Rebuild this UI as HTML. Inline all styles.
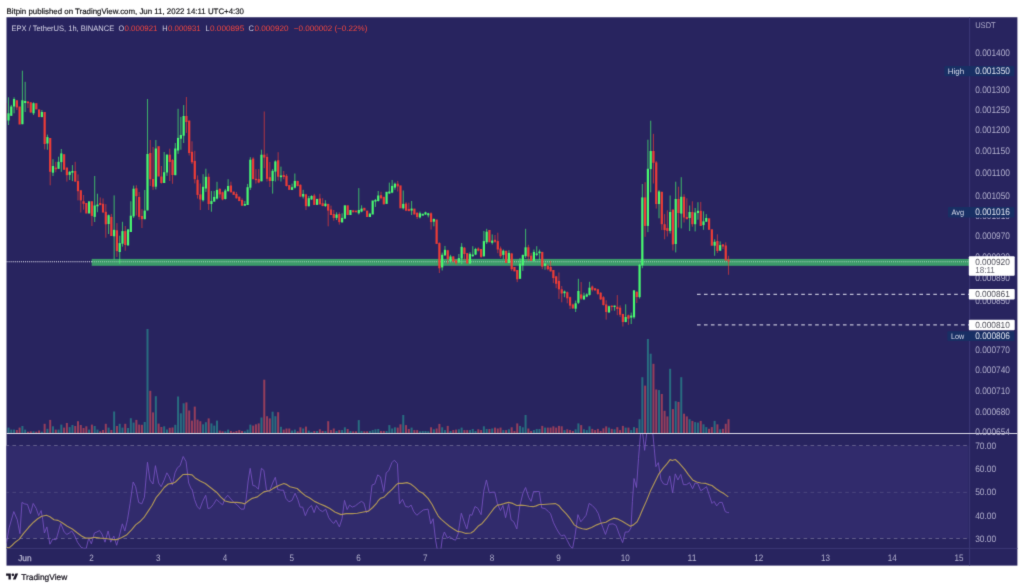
<!DOCTYPE html>
<html><head><meta charset="utf-8"><title>EPX / TetherUS chart</title>
<style>html,body{margin:0;padding:0;background:#fff;width:1024px;height:588px;overflow:hidden}</style></head>
<body>
<svg width="1024" height="588" viewBox="0 0 1024 588" font-family="Liberation Sans, sans-serif" style="display:block;will-change:transform" text-rendering="geometricPrecision">
<filter id="soft" x="0" y="0" width="1024" height="588" filterUnits="userSpaceOnUse" color-interpolation-filters="sRGB"><feConvolveMatrix order="3" kernelMatrix="0.0121 0.0858 0.0121 0.0858 0.6084 0.0858 0.0121 0.0858 0.0121" divisor="1" edgeMode="duplicate" preserveAlpha="true"/></filter>
<g filter="url(#soft)">
<rect width="1024" height="588" fill="#ffffff"/>
<text x="6.5" y="14.1" font-size="7.95" fill="#0c0c10" stroke="#0c0c10" stroke-width="0.16" textLength="237.5" lengthAdjust="spacingAndGlyphs">Bitpin published on TradingView.com, Jun 11, 2022 14:11 UTC+4:30</text>
<rect x="6.5" y="17.25" width="1010.9" height="548.35" fill="#28245f"/>
<defs><clipPath id="main"><rect x="6.5" y="17.25" width="963.1" height="416.25"/></clipPath><clipPath id="rsi"><rect x="6.5" y="434.0" width="963.1" height="114.4"/></clipPath></defs>
<rect x="6.5" y="445.5" width="962.1" height="93" fill="#312b6c"/>
<line x1="6.5" y1="445.5" x2="969.6" y2="445.5" stroke="#b4b2c8" stroke-opacity="0.44" stroke-width="0.9" stroke-dasharray="3.6 3.34" stroke-dashoffset="1"/>
<line x1="6.5" y1="492.4" x2="969.6" y2="492.4" stroke="#b4b2c8" stroke-opacity="0.22" stroke-width="0.9" stroke-dasharray="3.6 3.34" stroke-dashoffset="1"/>
<line x1="6.5" y1="538.5" x2="969.6" y2="538.5" stroke="#b4b2c8" stroke-opacity="0.44" stroke-width="0.9" stroke-dasharray="3.6 3.34" stroke-dashoffset="1"/>
<line x1="969.6" y1="17.25" x2="969.6" y2="565.6" stroke="#3c3875" stroke-width="1"/>
<line x1="6.5" y1="548.4" x2="1017.4" y2="548.4" stroke="#3c3875" stroke-width="1"/>
<line x1="6.5" y1="261.7" x2="969.6" y2="261.7" stroke="#e8e7f4" stroke-opacity="1" stroke-width="1.05" stroke-dasharray="1.03 1.03"/>
<rect x="91.7" y="258.9" width="877.9" height="6.9" fill="#3c9b6a"/>
<line x1="91.7" y1="261.7" x2="969.6" y2="261.7" stroke="#e4f4ea" stroke-opacity="0.62" stroke-width="1.05" stroke-dasharray="1.03 1.03"/>
<line x1="697" y1="294.4" x2="969.6" y2="294.4" stroke="#bdbcd4" stroke-width="1.15" stroke-dasharray="3.6 3.35"/>
<line x1="697" y1="324.9" x2="969.6" y2="324.9" stroke="#bdbcd4" stroke-width="1.15" stroke-dasharray="3.6 3.35"/>
<g clip-path="url(#main)">
<rect x="7.5" y="427.6" width="2.0" height="5.4" fill="#286c80"/>
<rect x="10.28" y="429.6" width="2.0" height="3.4" fill="#286c80"/>
<rect x="13.06" y="429.6" width="2.0" height="3.4" fill="#286c80"/>
<rect x="15.84" y="430" width="2.0" height="3" fill="#953e5c"/>
<rect x="18.62" y="427.6" width="2.0" height="5.4" fill="#953e5c"/>
<rect x="21.4" y="426" width="2.0" height="7" fill="#286c80"/>
<rect x="24.18" y="429.6" width="2.0" height="3.4" fill="#286c80"/>
<rect x="26.96" y="431.7" width="2.0" height="1.3" fill="#953e5c"/>
<rect x="29.74" y="431.3" width="2.0" height="1.7" fill="#953e5c"/>
<rect x="32.52" y="431.3" width="2.0" height="1.7" fill="#286c80"/>
<rect x="35.3" y="431.7" width="2.0" height="1.3" fill="#953e5c"/>
<rect x="38.08" y="430.5" width="2.0" height="2.5" fill="#953e5c"/>
<rect x="40.86" y="431.7" width="2.0" height="1.3" fill="#286c80"/>
<rect x="43.64" y="423.8" width="2.0" height="9.2" fill="#953e5c"/>
<rect x="46.42" y="428.8" width="2.0" height="4.2" fill="#286c80"/>
<rect x="49.2" y="419.9" width="2.0" height="13.1" fill="#953e5c"/>
<rect x="51.98" y="426.3" width="2.0" height="6.7" fill="#286c80"/>
<rect x="54.76" y="429.6" width="2.0" height="3.4" fill="#953e5c"/>
<rect x="57.54" y="429.6" width="2.0" height="3.4" fill="#286c80"/>
<rect x="60.32" y="424.6" width="2.0" height="8.4" fill="#286c80"/>
<rect x="63.1" y="427.6" width="2.0" height="5.4" fill="#953e5c"/>
<rect x="65.88" y="423" width="2.0" height="10" fill="#953e5c"/>
<rect x="68.66" y="427.1" width="2.0" height="5.9" fill="#286c80"/>
<rect x="71.44" y="425" width="2.0" height="8" fill="#286c80"/>
<rect x="74.22" y="426" width="2.0" height="7" fill="#953e5c"/>
<rect x="77" y="421.2" width="2.0" height="11.8" fill="#953e5c"/>
<rect x="79.78" y="425" width="2.0" height="8" fill="#953e5c"/>
<rect x="82.56" y="428" width="2.0" height="5" fill="#953e5c"/>
<rect x="85.34" y="426.3" width="2.0" height="6.7" fill="#953e5c"/>
<rect x="88.12" y="429.6" width="2.0" height="3.4" fill="#286c80"/>
<rect x="90.9" y="424.6" width="2.0" height="8.4" fill="#953e5c"/>
<rect x="93.68" y="426" width="2.0" height="7" fill="#286c80"/>
<rect x="96.46" y="429.6" width="2.0" height="3.4" fill="#286c80"/>
<rect x="99.24" y="431.3" width="2.0" height="1.7" fill="#953e5c"/>
<rect x="102.02" y="430" width="2.0" height="3" fill="#953e5c"/>
<rect x="104.8" y="423.8" width="2.0" height="9.2" fill="#953e5c"/>
<rect x="107.58" y="427.6" width="2.0" height="5.4" fill="#286c80"/>
<rect x="110.36" y="430" width="2.0" height="3" fill="#953e5c"/>
<rect x="113.14" y="411.5" width="2.0" height="21.5" fill="#286c80"/>
<rect x="115.92" y="426" width="2.0" height="7" fill="#953e5c"/>
<rect x="118.7" y="423.8" width="2.0" height="9.2" fill="#286c80"/>
<rect x="121.48" y="427.6" width="2.0" height="5.4" fill="#286c80"/>
<rect x="124.26" y="423.8" width="2.0" height="9.2" fill="#953e5c"/>
<rect x="127.04" y="428" width="2.0" height="5" fill="#286c80"/>
<rect x="129.82" y="418.2" width="2.0" height="14.8" fill="#286c80"/>
<rect x="132.6" y="422.6" width="2.0" height="10.4" fill="#286c80"/>
<rect x="135.38" y="419.9" width="2.0" height="13.1" fill="#953e5c"/>
<rect x="138.16" y="424.6" width="2.0" height="8.4" fill="#953e5c"/>
<rect x="140.94" y="424.8" width="2.0" height="8.2" fill="#953e5c"/>
<rect x="143.72" y="422" width="2.0" height="11" fill="#286c80"/>
<rect x="146.5" y="329" width="2.0" height="104" fill="#286c80"/>
<rect x="149.28" y="390.8" width="2.0" height="42.2" fill="#953e5c"/>
<rect x="152.06" y="412.4" width="2.0" height="20.6" fill="#953e5c"/>
<rect x="154.84" y="396.2" width="2.0" height="36.8" fill="#286c80"/>
<rect x="157.62" y="423.6" width="2.0" height="9.4" fill="#953e5c"/>
<rect x="160.4" y="427" width="2.0" height="6" fill="#953e5c"/>
<rect x="163.18" y="426.3" width="2.0" height="6.7" fill="#286c80"/>
<rect x="165.96" y="429.5" width="2.0" height="3.5" fill="#286c80"/>
<rect x="168.74" y="427.8" width="2.0" height="5.2" fill="#953e5c"/>
<rect x="171.52" y="427.5" width="2.0" height="5.5" fill="#953e5c"/>
<rect x="174.3" y="424.8" width="2.0" height="8.2" fill="#286c80"/>
<rect x="177.08" y="396.5" width="2.0" height="36.5" fill="#286c80"/>
<rect x="179.86" y="413.3" width="2.0" height="19.7" fill="#286c80"/>
<rect x="182.64" y="403.3" width="2.0" height="29.7" fill="#286c80"/>
<rect x="185.42" y="402.4" width="2.0" height="30.6" fill="#953e5c"/>
<rect x="188.2" y="410.5" width="2.0" height="22.5" fill="#953e5c"/>
<rect x="190.98" y="420.6" width="2.0" height="12.4" fill="#953e5c"/>
<rect x="193.76" y="406.6" width="2.0" height="26.4" fill="#953e5c"/>
<rect x="196.54" y="419.6" width="2.0" height="13.4" fill="#953e5c"/>
<rect x="199.32" y="421.2" width="2.0" height="11.8" fill="#953e5c"/>
<rect x="202.1" y="424.3" width="2.0" height="8.7" fill="#286c80"/>
<rect x="204.88" y="422.2" width="2.0" height="10.8" fill="#286c80"/>
<rect x="207.66" y="418.4" width="2.0" height="14.6" fill="#953e5c"/>
<rect x="210.44" y="423.4" width="2.0" height="9.6" fill="#286c80"/>
<rect x="213.22" y="425.6" width="2.0" height="7.4" fill="#286c80"/>
<rect x="216" y="420.6" width="2.0" height="12.4" fill="#286c80"/>
<rect x="218.78" y="430.6" width="2.0" height="2.4" fill="#953e5c"/>
<rect x="221.56" y="431.3" width="2.0" height="1.7" fill="#953e5c"/>
<rect x="224.34" y="431.3" width="2.0" height="1.7" fill="#286c80"/>
<rect x="227.12" y="429.6" width="2.0" height="3.4" fill="#286c80"/>
<rect x="229.9" y="431" width="2.0" height="2" fill="#953e5c"/>
<rect x="232.68" y="431.8" width="2.0" height="1.2" fill="#953e5c"/>
<rect x="235.46" y="431" width="2.0" height="2" fill="#953e5c"/>
<rect x="238.24" y="430.1" width="2.0" height="2.9" fill="#953e5c"/>
<rect x="241.02" y="431" width="2.0" height="2" fill="#953e5c"/>
<rect x="243.8" y="431.3" width="2.0" height="1.7" fill="#286c80"/>
<rect x="246.58" y="429.6" width="2.0" height="3.4" fill="#286c80"/>
<rect x="249.36" y="424.6" width="2.0" height="8.4" fill="#286c80"/>
<rect x="252.14" y="425.6" width="2.0" height="7.4" fill="#953e5c"/>
<rect x="254.92" y="424.3" width="2.0" height="8.7" fill="#953e5c"/>
<rect x="257.7" y="423.4" width="2.0" height="9.6" fill="#953e5c"/>
<rect x="260.48" y="417.5" width="2.0" height="15.5" fill="#286c80"/>
<rect x="263.26" y="379.7" width="2.0" height="53.3" fill="#953e5c"/>
<rect x="266.04" y="416.2" width="2.0" height="16.8" fill="#953e5c"/>
<rect x="268.82" y="418.4" width="2.0" height="14.6" fill="#953e5c"/>
<rect x="271.6" y="411.7" width="2.0" height="21.3" fill="#286c80"/>
<rect x="274.38" y="416.2" width="2.0" height="16.8" fill="#286c80"/>
<rect x="277.16" y="412.2" width="2.0" height="20.8" fill="#953e5c"/>
<rect x="279.94" y="426.8" width="2.0" height="6.2" fill="#286c80"/>
<rect x="282.72" y="429.6" width="2.0" height="3.4" fill="#953e5c"/>
<rect x="285.5" y="428.5" width="2.0" height="4.5" fill="#953e5c"/>
<rect x="288.28" y="428.5" width="2.0" height="4.5" fill="#953e5c"/>
<rect x="291.06" y="430.6" width="2.0" height="2.4" fill="#286c80"/>
<rect x="293.84" y="429.6" width="2.0" height="3.4" fill="#286c80"/>
<rect x="296.62" y="431.3" width="2.0" height="1.7" fill="#953e5c"/>
<rect x="299.4" y="427.3" width="2.0" height="5.7" fill="#953e5c"/>
<rect x="302.18" y="428.5" width="2.0" height="4.5" fill="#286c80"/>
<rect x="304.96" y="426.6" width="2.0" height="6.4" fill="#953e5c"/>
<rect x="307.74" y="430.6" width="2.0" height="2.4" fill="#286c80"/>
<rect x="310.52" y="431.8" width="2.0" height="1.2" fill="#286c80"/>
<rect x="313.3" y="431" width="2.0" height="2" fill="#953e5c"/>
<rect x="316.08" y="431" width="2.0" height="2" fill="#286c80"/>
<rect x="318.86" y="429.3" width="2.0" height="3.7" fill="#953e5c"/>
<rect x="321.64" y="431" width="2.0" height="2" fill="#953e5c"/>
<rect x="324.42" y="431" width="2.0" height="2" fill="#286c80"/>
<rect x="327.2" y="421.2" width="2.0" height="11.8" fill="#953e5c"/>
<rect x="329.98" y="430.1" width="2.0" height="2.9" fill="#953e5c"/>
<rect x="332.76" y="428.5" width="2.0" height="4.5" fill="#953e5c"/>
<rect x="335.54" y="431" width="2.0" height="2" fill="#286c80"/>
<rect x="338.32" y="430.1" width="2.0" height="2.9" fill="#953e5c"/>
<rect x="341.1" y="430.1" width="2.0" height="2.9" fill="#286c80"/>
<rect x="343.88" y="427.3" width="2.0" height="5.7" fill="#286c80"/>
<rect x="346.66" y="429" width="2.0" height="4" fill="#953e5c"/>
<rect x="349.44" y="431" width="2.0" height="2" fill="#286c80"/>
<rect x="352.22" y="431.3" width="2.0" height="1.7" fill="#953e5c"/>
<rect x="355" y="431.3" width="2.0" height="1.7" fill="#953e5c"/>
<rect x="357.78" y="420.1" width="2.0" height="12.9" fill="#286c80"/>
<rect x="360.56" y="431" width="2.0" height="2" fill="#286c80"/>
<rect x="363.34" y="431.3" width="2.0" height="1.7" fill="#953e5c"/>
<rect x="366.12" y="431.3" width="2.0" height="1.7" fill="#953e5c"/>
<rect x="368.9" y="431" width="2.0" height="2" fill="#286c80"/>
<rect x="371.68" y="430.1" width="2.0" height="2.9" fill="#286c80"/>
<rect x="374.46" y="429.3" width="2.0" height="3.7" fill="#286c80"/>
<rect x="377.24" y="429" width="2.0" height="4" fill="#286c80"/>
<rect x="380.02" y="431" width="2.0" height="2" fill="#953e5c"/>
<rect x="382.8" y="431" width="2.0" height="2" fill="#953e5c"/>
<rect x="385.58" y="431" width="2.0" height="2" fill="#286c80"/>
<rect x="388.36" y="425.1" width="2.0" height="7.9" fill="#286c80"/>
<rect x="391.14" y="428.5" width="2.0" height="4.5" fill="#286c80"/>
<rect x="393.92" y="427.3" width="2.0" height="5.7" fill="#286c80"/>
<rect x="396.7" y="427.6" width="2.0" height="5.4" fill="#953e5c"/>
<rect x="399.48" y="424.3" width="2.0" height="8.7" fill="#953e5c"/>
<rect x="402.26" y="415" width="2.0" height="18" fill="#286c80"/>
<rect x="405.04" y="425.1" width="2.0" height="7.9" fill="#953e5c"/>
<rect x="407.82" y="429" width="2.0" height="4" fill="#953e5c"/>
<rect x="410.6" y="427.6" width="2.0" height="5.4" fill="#286c80"/>
<rect x="413.38" y="430.1" width="2.0" height="2.9" fill="#953e5c"/>
<rect x="416.16" y="430.1" width="2.0" height="2.9" fill="#953e5c"/>
<rect x="418.94" y="431.3" width="2.0" height="1.7" fill="#286c80"/>
<rect x="421.72" y="431" width="2.0" height="2" fill="#286c80"/>
<rect x="424.5" y="431" width="2.0" height="2" fill="#286c80"/>
<rect x="427.28" y="431.3" width="2.0" height="1.7" fill="#286c80"/>
<rect x="430.06" y="427.3" width="2.0" height="5.7" fill="#953e5c"/>
<rect x="432.84" y="429.3" width="2.0" height="3.7" fill="#286c80"/>
<rect x="435.62" y="428.5" width="2.0" height="4.5" fill="#953e5c"/>
<rect x="438.4" y="423.9" width="2.0" height="9.1" fill="#953e5c"/>
<rect x="441.18" y="427.3" width="2.0" height="5.7" fill="#286c80"/>
<rect x="443.96" y="430.1" width="2.0" height="2.9" fill="#286c80"/>
<rect x="446.74" y="425.9" width="2.0" height="7.1" fill="#953e5c"/>
<rect x="449.52" y="431" width="2.0" height="2" fill="#286c80"/>
<rect x="452.3" y="430.1" width="2.0" height="2.9" fill="#953e5c"/>
<rect x="455.08" y="429.6" width="2.0" height="3.4" fill="#953e5c"/>
<rect x="457.86" y="429.3" width="2.0" height="3.7" fill="#286c80"/>
<rect x="460.64" y="427.6" width="2.0" height="5.4" fill="#286c80"/>
<rect x="463.42" y="430.1" width="2.0" height="2.9" fill="#953e5c"/>
<rect x="466.2" y="430.1" width="2.0" height="2.9" fill="#953e5c"/>
<rect x="468.98" y="430.1" width="2.0" height="2.9" fill="#286c80"/>
<rect x="471.76" y="429" width="2.0" height="4" fill="#286c80"/>
<rect x="474.54" y="431" width="2.0" height="2" fill="#286c80"/>
<rect x="477.32" y="429.3" width="2.0" height="3.7" fill="#953e5c"/>
<rect x="480.1" y="430.1" width="2.0" height="2.9" fill="#953e5c"/>
<rect x="482.88" y="426.3" width="2.0" height="6.7" fill="#286c80"/>
<rect x="485.66" y="429" width="2.0" height="4" fill="#286c80"/>
<rect x="488.44" y="429" width="2.0" height="4" fill="#953e5c"/>
<rect x="491.22" y="428.5" width="2.0" height="4.5" fill="#286c80"/>
<rect x="494" y="427.6" width="2.0" height="5.4" fill="#953e5c"/>
<rect x="496.78" y="428.5" width="2.0" height="4.5" fill="#953e5c"/>
<rect x="499.56" y="427.6" width="2.0" height="5.4" fill="#953e5c"/>
<rect x="502.34" y="430.1" width="2.0" height="2.9" fill="#286c80"/>
<rect x="505.12" y="430.1" width="2.0" height="2.9" fill="#953e5c"/>
<rect x="507.9" y="429.3" width="2.0" height="3.7" fill="#286c80"/>
<rect x="510.68" y="427.3" width="2.0" height="5.7" fill="#953e5c"/>
<rect x="513.46" y="431" width="2.0" height="2" fill="#953e5c"/>
<rect x="516.24" y="423.4" width="2.0" height="9.6" fill="#953e5c"/>
<rect x="519.02" y="425.9" width="2.0" height="7.1" fill="#286c80"/>
<rect x="521.8" y="427.3" width="2.0" height="5.7" fill="#286c80"/>
<rect x="524.58" y="415" width="2.0" height="18" fill="#286c80"/>
<rect x="527.36" y="428.5" width="2.0" height="4.5" fill="#953e5c"/>
<rect x="530.14" y="431" width="2.0" height="2" fill="#953e5c"/>
<rect x="532.92" y="430.1" width="2.0" height="2.9" fill="#286c80"/>
<rect x="535.7" y="429" width="2.0" height="4" fill="#286c80"/>
<rect x="538.48" y="429" width="2.0" height="4" fill="#286c80"/>
<rect x="541.26" y="425.9" width="2.0" height="7.1" fill="#953e5c"/>
<rect x="544.04" y="427.6" width="2.0" height="5.4" fill="#286c80"/>
<rect x="546.82" y="427.6" width="2.0" height="5.4" fill="#953e5c"/>
<rect x="549.6" y="427.6" width="2.0" height="5.4" fill="#953e5c"/>
<rect x="552.38" y="426.3" width="2.0" height="6.7" fill="#953e5c"/>
<rect x="555.16" y="427.6" width="2.0" height="5.4" fill="#953e5c"/>
<rect x="557.94" y="425.9" width="2.0" height="7.1" fill="#953e5c"/>
<rect x="560.72" y="426.3" width="2.0" height="6.7" fill="#953e5c"/>
<rect x="563.5" y="430.1" width="2.0" height="2.9" fill="#286c80"/>
<rect x="566.28" y="429.3" width="2.0" height="3.7" fill="#953e5c"/>
<rect x="569.06" y="430.1" width="2.0" height="2.9" fill="#953e5c"/>
<rect x="571.84" y="431" width="2.0" height="2" fill="#953e5c"/>
<rect x="574.62" y="429.3" width="2.0" height="3.7" fill="#286c80"/>
<rect x="577.4" y="423.4" width="2.0" height="9.6" fill="#286c80"/>
<rect x="580.18" y="425.1" width="2.0" height="7.9" fill="#953e5c"/>
<rect x="582.96" y="429.3" width="2.0" height="3.7" fill="#286c80"/>
<rect x="585.74" y="430.1" width="2.0" height="2.9" fill="#286c80"/>
<rect x="588.52" y="426.3" width="2.0" height="6.7" fill="#286c80"/>
<rect x="591.3" y="428.9" width="2.0" height="4.1" fill="#953e5c"/>
<rect x="594.08" y="430.1" width="2.0" height="2.9" fill="#953e5c"/>
<rect x="596.86" y="428.9" width="2.0" height="4.1" fill="#953e5c"/>
<rect x="599.64" y="431" width="2.0" height="2" fill="#953e5c"/>
<rect x="602.42" y="428.3" width="2.0" height="4.7" fill="#953e5c"/>
<rect x="605.2" y="426.4" width="2.0" height="6.6" fill="#953e5c"/>
<rect x="607.98" y="427.6" width="2.0" height="5.4" fill="#286c80"/>
<rect x="610.76" y="428.9" width="2.0" height="4.1" fill="#953e5c"/>
<rect x="613.54" y="429.3" width="2.0" height="3.7" fill="#286c80"/>
<rect x="616.32" y="427.2" width="2.0" height="5.8" fill="#953e5c"/>
<rect x="619.1" y="430.1" width="2.0" height="2.9" fill="#953e5c"/>
<rect x="621.88" y="425.9" width="2.0" height="7.1" fill="#953e5c"/>
<rect x="624.66" y="427.6" width="2.0" height="5.4" fill="#286c80"/>
<rect x="627.44" y="427.6" width="2.0" height="5.4" fill="#953e5c"/>
<rect x="630.22" y="430.1" width="2.0" height="2.9" fill="#286c80"/>
<rect x="633" y="427.1" width="2.0" height="5.9" fill="#286c80"/>
<rect x="635.78" y="428.1" width="2.0" height="4.9" fill="#953e5c"/>
<rect x="638.56" y="419.2" width="2.0" height="13.8" fill="#286c80"/>
<rect x="641.34" y="377.2" width="2.0" height="55.8" fill="#286c80"/>
<rect x="644.12" y="385.6" width="2.0" height="47.4" fill="#953e5c"/>
<rect x="646.9" y="339" width="2.0" height="94" fill="#286c80"/>
<rect x="649.68" y="353.7" width="2.0" height="79.3" fill="#286c80"/>
<rect x="652.46" y="363.8" width="2.0" height="69.2" fill="#953e5c"/>
<rect x="655.24" y="389.5" width="2.0" height="43.5" fill="#953e5c"/>
<rect x="658.02" y="390.1" width="2.0" height="42.9" fill="#286c80"/>
<rect x="660.8" y="394" width="2.0" height="39" fill="#953e5c"/>
<rect x="663.58" y="410.8" width="2.0" height="22.2" fill="#953e5c"/>
<rect x="666.36" y="416.4" width="2.0" height="16.6" fill="#953e5c"/>
<rect x="669.14" y="368.8" width="2.0" height="64.2" fill="#286c80"/>
<rect x="671.92" y="409.1" width="2.0" height="23.9" fill="#953e5c"/>
<rect x="674.7" y="401.2" width="2.0" height="31.8" fill="#286c80"/>
<rect x="677.48" y="401.9" width="2.0" height="31.1" fill="#953e5c"/>
<rect x="680.26" y="377.2" width="2.0" height="55.8" fill="#286c80"/>
<rect x="683.04" y="413.7" width="2.0" height="19.3" fill="#953e5c"/>
<rect x="685.82" y="416.4" width="2.0" height="16.6" fill="#953e5c"/>
<rect x="688.6" y="419.2" width="2.0" height="13.8" fill="#286c80"/>
<rect x="691.38" y="420.9" width="2.0" height="12.1" fill="#953e5c"/>
<rect x="694.16" y="422.1" width="2.0" height="10.9" fill="#286c80"/>
<rect x="696.94" y="422.6" width="2.0" height="10.4" fill="#286c80"/>
<rect x="699.72" y="420.9" width="2.0" height="12.1" fill="#953e5c"/>
<rect x="702.5" y="424.3" width="2.0" height="8.7" fill="#286c80"/>
<rect x="705.28" y="427.1" width="2.0" height="5.9" fill="#286c80"/>
<rect x="708.06" y="428.8" width="2.0" height="4.2" fill="#953e5c"/>
<rect x="710.84" y="427.1" width="2.0" height="5.9" fill="#953e5c"/>
<rect x="713.62" y="420.9" width="2.0" height="12.1" fill="#286c80"/>
<rect x="716.4" y="424.3" width="2.0" height="8.7" fill="#953e5c"/>
<rect x="719.18" y="429.3" width="2.0" height="3.7" fill="#286c80"/>
<rect x="721.96" y="428.8" width="2.0" height="4.2" fill="#953e5c"/>
<rect x="724.74" y="423.8" width="2.0" height="9.2" fill="#953e5c"/>
<rect x="727.52" y="419.2" width="2.0" height="13.8" fill="#953e5c"/>
<rect x="7.95" y="97.3" width="1.1" height="27.7" fill="#48f870" fill-opacity="0.62"/>
<rect x="10.73" y="104.9" width="1.1" height="11.1" fill="#48f870" fill-opacity="0.62"/>
<rect x="13.51" y="97.3" width="1.1" height="16" fill="#48f870" fill-opacity="0.62"/>
<rect x="16.29" y="100.3" width="1.1" height="9.7" fill="#eb3c37" fill-opacity="0.62"/>
<rect x="21.85" y="70.7" width="1.1" height="53.5" fill="#48f870" fill-opacity="0.62"/>
<rect x="24.63" y="81.8" width="1.1" height="30.2" fill="#48f870" fill-opacity="0.62"/>
<rect x="27.41" y="101.5" width="1.1" height="6.5" fill="#eb3c37" fill-opacity="0.62"/>
<rect x="30.19" y="102.3" width="1.1" height="10.7" fill="#eb3c37" fill-opacity="0.62"/>
<rect x="32.97" y="102.3" width="1.1" height="12.7" fill="#48f870" fill-opacity="0.62"/>
<rect x="41.31" y="110" width="1.1" height="7.1" fill="#48f870" fill-opacity="0.62"/>
<rect x="44.09" y="112" width="1.1" height="37.4" fill="#eb3c37" fill-opacity="0.62"/>
<rect x="46.87" y="134.6" width="1.1" height="15.1" fill="#48f870" fill-opacity="0.62"/>
<rect x="49.65" y="138" width="1.1" height="47.3" fill="#eb3c37" fill-opacity="0.62"/>
<rect x="52.43" y="159.2" width="1.1" height="16.8" fill="#48f870" fill-opacity="0.62"/>
<rect x="55.21" y="161.8" width="1.1" height="10.4" fill="#eb3c37" fill-opacity="0.62"/>
<rect x="57.99" y="156.7" width="1.1" height="12.1" fill="#48f870" fill-opacity="0.62"/>
<rect x="60.77" y="149" width="1.1" height="22.8" fill="#48f870" fill-opacity="0.62"/>
<rect x="66.33" y="167.6" width="1.1" height="14" fill="#eb3c37" fill-opacity="0.62"/>
<rect x="69.11" y="171" width="1.1" height="9" fill="#48f870" fill-opacity="0.62"/>
<rect x="71.89" y="165.1" width="1.1" height="16" fill="#48f870" fill-opacity="0.62"/>
<rect x="74.67" y="161.8" width="1.1" height="19.8" fill="#eb3c37" fill-opacity="0.62"/>
<rect x="77.45" y="174.4" width="1.1" height="26" fill="#eb3c37" fill-opacity="0.62"/>
<rect x="80.23" y="190.3" width="1.1" height="22.2" fill="#eb3c37" fill-opacity="0.62"/>
<rect x="83.01" y="195" width="1.1" height="14.7" fill="#eb3c37" fill-opacity="0.62"/>
<rect x="91.35" y="201.3" width="1.1" height="24.7" fill="#eb3c37" fill-opacity="0.62"/>
<rect x="94.13" y="176" width="1.1" height="46" fill="#48f870" fill-opacity="0.62"/>
<rect x="96.91" y="193.7" width="1.1" height="18.5" fill="#48f870" fill-opacity="0.62"/>
<rect x="99.69" y="197.4" width="1.1" height="7.7" fill="#eb3c37" fill-opacity="0.62"/>
<rect x="102.47" y="198.4" width="1.1" height="14.1" fill="#eb3c37" fill-opacity="0.62"/>
<rect x="105.25" y="204.1" width="1.1" height="33.6" fill="#eb3c37" fill-opacity="0.62"/>
<rect x="108.03" y="214.5" width="1.1" height="19.5" fill="#48f870" fill-opacity="0.62"/>
<rect x="110.81" y="213.9" width="1.1" height="22.1" fill="#eb3c37" fill-opacity="0.62"/>
<rect x="113.59" y="195.4" width="1.1" height="64.1" fill="#48f870" fill-opacity="0.62"/>
<rect x="116.37" y="223.1" width="1.1" height="33.9" fill="#eb3c37" fill-opacity="0.62"/>
<rect x="119.15" y="235.7" width="1.1" height="28" fill="#48f870" fill-opacity="0.62"/>
<rect x="121.93" y="221.8" width="1.1" height="24.8" fill="#48f870" fill-opacity="0.62"/>
<rect x="124.71" y="226" width="1.1" height="24.7" fill="#eb3c37" fill-opacity="0.62"/>
<rect x="127.49" y="229" width="1.1" height="17" fill="#48f870" fill-opacity="0.62"/>
<rect x="130.27" y="201.3" width="1.1" height="30.7" fill="#48f870" fill-opacity="0.62"/>
<rect x="133.05" y="185.6" width="1.1" height="32.4" fill="#48f870" fill-opacity="0.62"/>
<rect x="135.83" y="185.3" width="1.1" height="30.2" fill="#eb3c37" fill-opacity="0.62"/>
<rect x="138.61" y="192" width="1.1" height="27.7" fill="#eb3c37" fill-opacity="0.62"/>
<rect x="141.39" y="209.2" width="1.1" height="18.8" fill="#eb3c37" fill-opacity="0.62"/>
<rect x="144.17" y="190" width="1.1" height="29.2" fill="#48f870" fill-opacity="0.62"/>
<rect x="146.95" y="99" width="1.1" height="111.4" fill="#48f870" fill-opacity="0.62"/>
<rect x="149.73" y="140" width="1.1" height="46" fill="#eb3c37" fill-opacity="0.62"/>
<rect x="152.51" y="147" width="1.1" height="42.9" fill="#eb3c37" fill-opacity="0.62"/>
<rect x="155.29" y="140" width="1.1" height="49.4" fill="#48f870" fill-opacity="0.62"/>
<rect x="160.85" y="166" width="1.1" height="17.6" fill="#eb3c37" fill-opacity="0.62"/>
<rect x="163.63" y="152" width="1.1" height="31" fill="#48f870" fill-opacity="0.62"/>
<rect x="166.41" y="154.6" width="1.1" height="21.2" fill="#48f870" fill-opacity="0.62"/>
<rect x="169.19" y="148.7" width="1.1" height="32.3" fill="#eb3c37" fill-opacity="0.62"/>
<rect x="171.97" y="159" width="1.1" height="24.8" fill="#eb3c37" fill-opacity="0.62"/>
<rect x="174.75" y="143" width="1.1" height="32.2" fill="#48f870" fill-opacity="0.62"/>
<rect x="177.53" y="108.8" width="1.1" height="45.1" fill="#48f870" fill-opacity="0.62"/>
<rect x="180.31" y="116.9" width="1.1" height="32.8" fill="#48f870" fill-opacity="0.62"/>
<rect x="183.09" y="105.1" width="1.1" height="37.9" fill="#48f870" fill-opacity="0.62"/>
<rect x="185.87" y="97" width="1.1" height="35.9" fill="#eb3c37" fill-opacity="0.62"/>
<rect x="188.65" y="120.6" width="1.1" height="34.9" fill="#eb3c37" fill-opacity="0.62"/>
<rect x="191.43" y="141.3" width="1.1" height="22.7" fill="#eb3c37" fill-opacity="0.62"/>
<rect x="194.21" y="150.8" width="1.1" height="32.6" fill="#eb3c37" fill-opacity="0.62"/>
<rect x="196.99" y="175.4" width="1.1" height="23.2" fill="#eb3c37" fill-opacity="0.62"/>
<rect x="199.77" y="183.5" width="1.1" height="26.5" fill="#eb3c37" fill-opacity="0.62"/>
<rect x="202.55" y="174.2" width="1.1" height="27.4" fill="#48f870" fill-opacity="0.62"/>
<rect x="205.33" y="168.7" width="1.1" height="23.2" fill="#48f870" fill-opacity="0.62"/>
<rect x="208.11" y="173.5" width="1.1" height="36.5" fill="#eb3c37" fill-opacity="0.62"/>
<rect x="210.89" y="191" width="1.1" height="20.7" fill="#48f870" fill-opacity="0.62"/>
<rect x="213.67" y="191" width="1.1" height="10.6" fill="#48f870" fill-opacity="0.62"/>
<rect x="216.45" y="181.8" width="1.1" height="17.7" fill="#48f870" fill-opacity="0.62"/>
<rect x="219.23" y="188.2" width="1.1" height="9.6" fill="#eb3c37" fill-opacity="0.62"/>
<rect x="222.01" y="191.6" width="1.1" height="8.7" fill="#eb3c37" fill-opacity="0.62"/>
<rect x="224.79" y="188.9" width="1.1" height="10.6" fill="#48f870" fill-opacity="0.62"/>
<rect x="227.57" y="179.2" width="1.1" height="12.7" fill="#48f870" fill-opacity="0.62"/>
<rect x="230.35" y="181.7" width="1.1" height="11" fill="#eb3c37" fill-opacity="0.62"/>
<rect x="235.91" y="191.9" width="1.1" height="6.7" fill="#eb3c37" fill-opacity="0.62"/>
<rect x="241.47" y="198.3" width="1.1" height="7.4" fill="#eb3c37" fill-opacity="0.62"/>
<rect x="244.25" y="201.1" width="1.1" height="4.6" fill="#48f870" fill-opacity="0.62"/>
<rect x="247.03" y="183.9" width="1.1" height="21.1" fill="#48f870" fill-opacity="0.62"/>
<rect x="249.81" y="157.2" width="1.1" height="32.7" fill="#48f870" fill-opacity="0.62"/>
<rect x="252.59" y="157.2" width="1.1" height="22" fill="#eb3c37" fill-opacity="0.62"/>
<rect x="255.37" y="169.1" width="1.1" height="14.5" fill="#eb3c37" fill-opacity="0.62"/>
<rect x="258.15" y="169.1" width="1.1" height="14.1" fill="#eb3c37" fill-opacity="0.62"/>
<rect x="260.93" y="149.7" width="1.1" height="31.6" fill="#48f870" fill-opacity="0.62"/>
<rect x="263.71" y="111.5" width="1.1" height="56.7" fill="#eb3c37" fill-opacity="0.62"/>
<rect x="266.49" y="153.5" width="1.1" height="28" fill="#eb3c37" fill-opacity="0.62"/>
<rect x="269.27" y="162" width="1.1" height="25" fill="#eb3c37" fill-opacity="0.62"/>
<rect x="272.05" y="169.1" width="1.1" height="24.5" fill="#48f870" fill-opacity="0.62"/>
<rect x="274.83" y="160.3" width="1.1" height="21.2" fill="#48f870" fill-opacity="0.62"/>
<rect x="277.61" y="152.2" width="1.1" height="28.4" fill="#eb3c37" fill-opacity="0.62"/>
<rect x="280.39" y="166.6" width="1.1" height="14.9" fill="#48f870" fill-opacity="0.62"/>
<rect x="283.17" y="171" width="1.1" height="8.2" fill="#eb3c37" fill-opacity="0.62"/>
<rect x="285.95" y="174.1" width="1.1" height="12.4" fill="#eb3c37" fill-opacity="0.62"/>
<rect x="291.51" y="183.6" width="1.1" height="6.3" fill="#48f870" fill-opacity="0.62"/>
<rect x="294.29" y="173.5" width="1.1" height="15" fill="#48f870" fill-opacity="0.62"/>
<rect x="297.07" y="180.9" width="1.1" height="5.6" fill="#eb3c37" fill-opacity="0.62"/>
<rect x="299.85" y="184.3" width="1.1" height="12.9" fill="#eb3c37" fill-opacity="0.62"/>
<rect x="302.63" y="189.8" width="1.1" height="8.7" fill="#48f870" fill-opacity="0.62"/>
<rect x="305.41" y="193.8" width="1.1" height="16.2" fill="#eb3c37" fill-opacity="0.62"/>
<rect x="308.19" y="196" width="1.1" height="10.6" fill="#48f870" fill-opacity="0.62"/>
<rect x="310.97" y="195.2" width="1.1" height="4.8" fill="#48f870" fill-opacity="0.62"/>
<rect x="313.75" y="193.8" width="1.1" height="11.1" fill="#eb3c37" fill-opacity="0.62"/>
<rect x="319.31" y="193.8" width="1.1" height="10.6" fill="#eb3c37" fill-opacity="0.62"/>
<rect x="322.09" y="198.2" width="1.1" height="7.9" fill="#eb3c37" fill-opacity="0.62"/>
<rect x="324.87" y="200.2" width="1.1" height="6.7" fill="#48f870" fill-opacity="0.62"/>
<rect x="327.65" y="203.9" width="1.1" height="22.4" fill="#eb3c37" fill-opacity="0.62"/>
<rect x="330.43" y="205.6" width="1.1" height="9.4" fill="#eb3c37" fill-opacity="0.62"/>
<rect x="333.21" y="210" width="1.1" height="10.7" fill="#eb3c37" fill-opacity="0.62"/>
<rect x="335.99" y="212.3" width="1.1" height="7.7" fill="#48f870" fill-opacity="0.62"/>
<rect x="338.77" y="212.3" width="1.1" height="12.3" fill="#eb3c37" fill-opacity="0.62"/>
<rect x="341.55" y="213.3" width="1.1" height="9.1" fill="#48f870" fill-opacity="0.62"/>
<rect x="358.23" y="188.1" width="1.1" height="26.4" fill="#48f870" fill-opacity="0.62"/>
<rect x="361.01" y="205.3" width="1.1" height="7" fill="#48f870" fill-opacity="0.62"/>
<rect x="369.35" y="212.8" width="1.1" height="4.2" fill="#48f870" fill-opacity="0.62"/>
<rect x="374.91" y="198.9" width="1.1" height="8" fill="#48f870" fill-opacity="0.62"/>
<rect x="377.69" y="191" width="1.1" height="10.6" fill="#48f870" fill-opacity="0.62"/>
<rect x="380.47" y="191.8" width="1.1" height="7.6" fill="#eb3c37" fill-opacity="0.62"/>
<rect x="388.81" y="182.6" width="1.1" height="11.2" fill="#48f870" fill-opacity="0.62"/>
<rect x="391.59" y="180" width="1.1" height="13.2" fill="#48f870" fill-opacity="0.62"/>
<rect x="394.37" y="182.6" width="1.1" height="7.2" fill="#48f870" fill-opacity="0.62"/>
<rect x="397.15" y="180.9" width="1.1" height="10.6" fill="#eb3c37" fill-opacity="0.62"/>
<rect x="402.71" y="190.5" width="1.1" height="19" fill="#48f870" fill-opacity="0.62"/>
<rect x="405.49" y="202.2" width="1.1" height="8.9" fill="#eb3c37" fill-opacity="0.62"/>
<rect x="408.27" y="202.7" width="1.1" height="8.4" fill="#eb3c37" fill-opacity="0.62"/>
<rect x="411.05" y="201" width="1.1" height="14" fill="#48f870" fill-opacity="0.62"/>
<rect x="416.61" y="212.3" width="1.1" height="6.7" fill="#eb3c37" fill-opacity="0.62"/>
<rect x="419.39" y="211.6" width="1.1" height="6.8" fill="#48f870" fill-opacity="0.62"/>
<rect x="424.95" y="211.6" width="1.1" height="3.4" fill="#48f870" fill-opacity="0.62"/>
<rect x="427.73" y="212.8" width="1.1" height="4.6" fill="#48f870" fill-opacity="0.62"/>
<rect x="430.51" y="212.3" width="1.1" height="17.3" fill="#eb3c37" fill-opacity="0.62"/>
<rect x="433.29" y="218.4" width="1.1" height="7.9" fill="#48f870" fill-opacity="0.62"/>
<rect x="438.85" y="242.2" width="1.1" height="30.8" fill="#eb3c37" fill-opacity="0.62"/>
<rect x="441.63" y="252.6" width="1.1" height="17.9" fill="#48f870" fill-opacity="0.62"/>
<rect x="444.41" y="245.9" width="1.1" height="10.1" fill="#48f870" fill-opacity="0.62"/>
<rect x="447.19" y="249.8" width="1.1" height="14.2" fill="#eb3c37" fill-opacity="0.62"/>
<rect x="449.97" y="254.8" width="1.1" height="7.2" fill="#48f870" fill-opacity="0.62"/>
<rect x="452.75" y="256" width="1.1" height="6.4" fill="#eb3c37" fill-opacity="0.62"/>
<rect x="455.53" y="259.4" width="1.1" height="5.5" fill="#eb3c37" fill-opacity="0.62"/>
<rect x="458.31" y="254" width="1.1" height="9.2" fill="#48f870" fill-opacity="0.62"/>
<rect x="461.09" y="243.1" width="1.1" height="21" fill="#48f870" fill-opacity="0.62"/>
<rect x="463.87" y="247" width="1.1" height="13" fill="#eb3c37" fill-opacity="0.62"/>
<rect x="466.65" y="253" width="1.1" height="10.8" fill="#eb3c37" fill-opacity="0.62"/>
<rect x="469.43" y="252.2" width="1.1" height="11.9" fill="#48f870" fill-opacity="0.62"/>
<rect x="472.21" y="246.2" width="1.1" height="10.7" fill="#48f870" fill-opacity="0.62"/>
<rect x="474.99" y="247.8" width="1.1" height="7.4" fill="#48f870" fill-opacity="0.62"/>
<rect x="477.77" y="247.3" width="1.1" height="4.2" fill="#eb3c37" fill-opacity="0.62"/>
<rect x="480.55" y="249" width="1.1" height="8.9" fill="#eb3c37" fill-opacity="0.62"/>
<rect x="483.33" y="231" width="1.1" height="25.9" fill="#48f870" fill-opacity="0.62"/>
<rect x="486.11" y="228.8" width="1.1" height="15.2" fill="#48f870" fill-opacity="0.62"/>
<rect x="491.67" y="234.4" width="1.1" height="10.1" fill="#48f870" fill-opacity="0.62"/>
<rect x="494.45" y="235" width="1.1" height="7.8" fill="#eb3c37" fill-opacity="0.62"/>
<rect x="497.23" y="232.7" width="1.1" height="20.5" fill="#eb3c37" fill-opacity="0.62"/>
<rect x="500.01" y="246.5" width="1.1" height="11.4" fill="#eb3c37" fill-opacity="0.62"/>
<rect x="502.79" y="249.5" width="1.1" height="9.6" fill="#48f870" fill-opacity="0.62"/>
<rect x="508.35" y="250.2" width="1.1" height="12.8" fill="#48f870" fill-opacity="0.62"/>
<rect x="511.13" y="252.9" width="1.1" height="18" fill="#eb3c37" fill-opacity="0.62"/>
<rect x="516.69" y="270" width="1.1" height="12.1" fill="#eb3c37" fill-opacity="0.62"/>
<rect x="519.47" y="257.9" width="1.1" height="20.9" fill="#48f870" fill-opacity="0.62"/>
<rect x="522.25" y="254.6" width="1.1" height="16.3" fill="#48f870" fill-opacity="0.62"/>
<rect x="525.03" y="228.8" width="1.1" height="29.1" fill="#48f870" fill-opacity="0.62"/>
<rect x="527.81" y="244.8" width="1.1" height="16" fill="#eb3c37" fill-opacity="0.62"/>
<rect x="530.59" y="252.9" width="1.1" height="7.9" fill="#eb3c37" fill-opacity="0.62"/>
<rect x="533.37" y="249.5" width="1.1" height="11.8" fill="#48f870" fill-opacity="0.62"/>
<rect x="536.15" y="246.2" width="1.1" height="10" fill="#48f870" fill-opacity="0.62"/>
<rect x="538.93" y="249.5" width="1.1" height="10.4" fill="#48f870" fill-opacity="0.62"/>
<rect x="541.71" y="251.9" width="1.1" height="17.3" fill="#eb3c37" fill-opacity="0.62"/>
<rect x="544.49" y="263" width="1.1" height="6.7" fill="#48f870" fill-opacity="0.62"/>
<rect x="547.27" y="264.1" width="1.1" height="6.3" fill="#eb3c37" fill-opacity="0.62"/>
<rect x="550.05" y="260.8" width="1.1" height="10.6" fill="#eb3c37" fill-opacity="0.62"/>
<rect x="552.83" y="270" width="1.1" height="13.1" fill="#eb3c37" fill-opacity="0.62"/>
<rect x="555.61" y="275.9" width="1.1" height="12.3" fill="#eb3c37" fill-opacity="0.62"/>
<rect x="558.39" y="272.5" width="1.1" height="26.4" fill="#eb3c37" fill-opacity="0.62"/>
<rect x="561.17" y="286" width="1.1" height="16.3" fill="#eb3c37" fill-opacity="0.62"/>
<rect x="563.95" y="290.5" width="1.1" height="6.7" fill="#48f870" fill-opacity="0.62"/>
<rect x="566.73" y="291.5" width="1.1" height="11.8" fill="#eb3c37" fill-opacity="0.62"/>
<rect x="569.51" y="296.6" width="1.1" height="12.4" fill="#eb3c37" fill-opacity="0.62"/>
<rect x="572.29" y="303.6" width="1.1" height="5.4" fill="#eb3c37" fill-opacity="0.62"/>
<rect x="575.07" y="300.6" width="1.1" height="11.4" fill="#48f870" fill-opacity="0.62"/>
<rect x="577.85" y="278.8" width="1.1" height="25.2" fill="#48f870" fill-opacity="0.62"/>
<rect x="580.63" y="282.1" width="1.1" height="17.8" fill="#eb3c37" fill-opacity="0.62"/>
<rect x="583.41" y="292.7" width="1.1" height="7.2" fill="#48f870" fill-opacity="0.62"/>
<rect x="586.19" y="293.2" width="1.1" height="4" fill="#48f870" fill-opacity="0.62"/>
<rect x="588.97" y="281.8" width="1.1" height="13.8" fill="#48f870" fill-opacity="0.62"/>
<rect x="591.75" y="285.5" width="1.1" height="6" fill="#eb3c37" fill-opacity="0.62"/>
<rect x="597.31" y="288.8" width="1.1" height="6.1" fill="#eb3c37" fill-opacity="0.62"/>
<rect x="600.09" y="292.2" width="1.1" height="7.7" fill="#eb3c37" fill-opacity="0.62"/>
<rect x="602.87" y="296.1" width="1.1" height="9.5" fill="#eb3c37" fill-opacity="0.62"/>
<rect x="605.65" y="300.3" width="1.1" height="19.3" fill="#eb3c37" fill-opacity="0.62"/>
<rect x="608.43" y="305.6" width="1.1" height="7.4" fill="#48f870" fill-opacity="0.62"/>
<rect x="611.21" y="305.6" width="1.1" height="5.1" fill="#eb3c37" fill-opacity="0.62"/>
<rect x="613.99" y="305.6" width="1.1" height="5.1" fill="#48f870" fill-opacity="0.62"/>
<rect x="616.77" y="295.1" width="1.1" height="20.1" fill="#eb3c37" fill-opacity="0.62"/>
<rect x="619.55" y="305.4" width="1.1" height="11.5" fill="#eb3c37" fill-opacity="0.62"/>
<rect x="622.33" y="313.7" width="1.1" height="12.8" fill="#eb3c37" fill-opacity="0.62"/>
<rect x="625.11" y="304.3" width="1.1" height="18" fill="#48f870" fill-opacity="0.62"/>
<rect x="627.89" y="314.6" width="1.1" height="10.2" fill="#eb3c37" fill-opacity="0.62"/>
<rect x="630.67" y="312.6" width="1.1" height="11.4" fill="#48f870" fill-opacity="0.62"/>
<rect x="633.45" y="290" width="1.1" height="28.7" fill="#48f870" fill-opacity="0.62"/>
<rect x="636.23" y="291.3" width="1.1" height="11.7" fill="#eb3c37" fill-opacity="0.62"/>
<rect x="639.01" y="263.9" width="1.1" height="34.6" fill="#48f870" fill-opacity="0.62"/>
<rect x="641.79" y="184" width="1.1" height="84.2" fill="#48f870" fill-opacity="0.62"/>
<rect x="644.57" y="182.2" width="1.1" height="54.6" fill="#eb3c37" fill-opacity="0.62"/>
<rect x="647.35" y="139.7" width="1.1" height="92.4" fill="#48f870" fill-opacity="0.62"/>
<rect x="650.13" y="120.7" width="1.1" height="71.6" fill="#48f870" fill-opacity="0.62"/>
<rect x="652.91" y="133.8" width="1.1" height="49.7" fill="#eb3c37" fill-opacity="0.62"/>
<rect x="655.69" y="161" width="1.1" height="47.6" fill="#eb3c37" fill-opacity="0.62"/>
<rect x="658.47" y="190.1" width="1.1" height="28.2" fill="#48f870" fill-opacity="0.62"/>
<rect x="661.25" y="191.8" width="1.1" height="38.3" fill="#eb3c37" fill-opacity="0.62"/>
<rect x="664.03" y="214.1" width="1.1" height="25.2" fill="#eb3c37" fill-opacity="0.62"/>
<rect x="666.81" y="210.3" width="1.1" height="26.2" fill="#eb3c37" fill-opacity="0.62"/>
<rect x="669.59" y="195.5" width="1.1" height="38" fill="#48f870" fill-opacity="0.62"/>
<rect x="672.37" y="209.6" width="1.1" height="40.9" fill="#eb3c37" fill-opacity="0.62"/>
<rect x="675.15" y="181.7" width="1.1" height="70.7" fill="#48f870" fill-opacity="0.62"/>
<rect x="677.93" y="186.7" width="1.1" height="40.9" fill="#eb3c37" fill-opacity="0.62"/>
<rect x="680.71" y="177.2" width="1.1" height="51.2" fill="#48f870" fill-opacity="0.62"/>
<rect x="683.49" y="194.3" width="1.1" height="28.2" fill="#eb3c37" fill-opacity="0.62"/>
<rect x="686.27" y="198.3" width="1.1" height="20.9" fill="#eb3c37" fill-opacity="0.62"/>
<rect x="689.05" y="205.5" width="1.1" height="25.5" fill="#48f870" fill-opacity="0.62"/>
<rect x="691.83" y="201.3" width="1.1" height="25.4" fill="#eb3c37" fill-opacity="0.62"/>
<rect x="694.61" y="208" width="1.1" height="23.4" fill="#48f870" fill-opacity="0.62"/>
<rect x="697.39" y="202.2" width="1.1" height="17.5" fill="#48f870" fill-opacity="0.62"/>
<rect x="700.17" y="201.9" width="1.1" height="24" fill="#eb3c37" fill-opacity="0.62"/>
<rect x="702.95" y="211.3" width="1.1" height="18.5" fill="#48f870" fill-opacity="0.62"/>
<rect x="705.73" y="214.1" width="1.1" height="7.9" fill="#48f870" fill-opacity="0.62"/>
<rect x="714.07" y="239.3" width="1.1" height="16.5" fill="#48f870" fill-opacity="0.62"/>
<rect x="716.85" y="234.3" width="1.1" height="18.7" fill="#eb3c37" fill-opacity="0.62"/>
<rect x="719.63" y="241.4" width="1.1" height="9.3" fill="#48f870" fill-opacity="0.62"/>
<rect x="722.41" y="244" width="1.1" height="5" fill="#eb3c37" fill-opacity="0.62"/>
<rect x="725.19" y="242.3" width="1.1" height="18.1" fill="#eb3c37" fill-opacity="0.62"/>
<rect x="727.97" y="255.8" width="1.1" height="19" fill="#eb3c37" fill-opacity="0.62"/>
<rect x="7.4" y="113.3" width="2.2" height="7.2" fill="#48f870"/>
<rect x="10.18" y="106.5" width="2.2" height="9.3" fill="#48f870"/>
<rect x="12.96" y="99" width="2.2" height="7.5" fill="#48f870"/>
<rect x="15.74" y="100.3" width="2.2" height="7.1" fill="#eb3c37"/>
<rect x="18.52" y="106.5" width="2.2" height="18" fill="#eb3c37"/>
<rect x="21.3" y="100.3" width="2.2" height="23.9" fill="#48f870"/>
<rect x="24.08" y="101" width="2.2" height="2" fill="#48f870"/>
<rect x="26.86" y="101.5" width="2.2" height="1.7" fill="#eb3c37"/>
<rect x="29.64" y="102.3" width="2.2" height="10.1" fill="#eb3c37"/>
<rect x="32.42" y="103.2" width="2.2" height="10.1" fill="#48f870"/>
<rect x="35.2" y="103.2" width="2.2" height="6.2" fill="#eb3c37"/>
<rect x="37.98" y="109.4" width="2.2" height="7.7" fill="#eb3c37"/>
<rect x="40.76" y="112" width="2.2" height="5.1" fill="#48f870"/>
<rect x="43.54" y="112" width="2.2" height="32" fill="#eb3c37"/>
<rect x="46.32" y="137.1" width="2.2" height="6.4" fill="#48f870"/>
<rect x="49.1" y="138" width="2.2" height="33.8" fill="#eb3c37"/>
<rect x="51.88" y="166" width="2.2" height="6.7" fill="#48f870"/>
<rect x="54.66" y="167.6" width="2.2" height="1.7" fill="#eb3c37"/>
<rect x="57.44" y="161.8" width="2.2" height="7" fill="#48f870"/>
<rect x="60.22" y="153.4" width="2.2" height="8.7" fill="#48f870"/>
<rect x="63" y="154.2" width="2.2" height="15.6" fill="#eb3c37"/>
<rect x="65.78" y="167.6" width="2.2" height="7.6" fill="#eb3c37"/>
<rect x="68.56" y="171.8" width="2.2" height="3.1" fill="#48f870"/>
<rect x="71.34" y="171" width="2.2" height="1.7" fill="#48f870"/>
<rect x="74.12" y="171" width="2.2" height="10.6" fill="#eb3c37"/>
<rect x="76.9" y="181.1" width="2.2" height="10.1" fill="#eb3c37"/>
<rect x="79.68" y="190.3" width="2.2" height="10.1" fill="#eb3c37"/>
<rect x="82.46" y="201.3" width="2.2" height="2.5" fill="#eb3c37"/>
<rect x="85.24" y="203" width="2.2" height="10.5" fill="#eb3c37"/>
<rect x="88.02" y="201.3" width="2.2" height="12.2" fill="#48f870"/>
<rect x="90.8" y="201.3" width="2.2" height="14.6" fill="#eb3c37"/>
<rect x="93.58" y="205.5" width="2.2" height="11.4" fill="#48f870"/>
<rect x="96.36" y="204.6" width="2.2" height="1.7" fill="#48f870"/>
<rect x="99.14" y="203" width="2.2" height="2.1" fill="#eb3c37"/>
<rect x="101.92" y="203.8" width="2.2" height="8.7" fill="#eb3c37"/>
<rect x="104.7" y="211.8" width="2.2" height="12.5" fill="#eb3c37"/>
<rect x="107.48" y="215.2" width="2.2" height="8.8" fill="#48f870"/>
<rect x="110.26" y="216.9" width="2.2" height="19.1" fill="#eb3c37"/>
<rect x="113.04" y="229.8" width="2.2" height="6.5" fill="#48f870"/>
<rect x="115.82" y="230.3" width="2.2" height="20.8" fill="#eb3c37"/>
<rect x="118.6" y="243.1" width="2.2" height="8.9" fill="#48f870"/>
<rect x="121.38" y="231.1" width="2.2" height="12.6" fill="#48f870"/>
<rect x="124.16" y="231.1" width="2.2" height="13.9" fill="#eb3c37"/>
<rect x="126.94" y="229.5" width="2.2" height="15.8" fill="#48f870"/>
<rect x="129.72" y="215.7" width="2.2" height="16.3" fill="#48f870"/>
<rect x="132.5" y="188.7" width="2.2" height="27.7" fill="#48f870"/>
<rect x="135.28" y="188.3" width="2.2" height="7.9" fill="#eb3c37"/>
<rect x="138.06" y="197" width="2.2" height="19.9" fill="#eb3c37"/>
<rect x="140.84" y="216" width="2.2" height="3.2" fill="#eb3c37"/>
<rect x="143.62" y="210.6" width="2.2" height="8.6" fill="#48f870"/>
<rect x="146.4" y="154" width="2.2" height="56.4" fill="#48f870"/>
<rect x="149.18" y="153" width="2.2" height="26.2" fill="#eb3c37"/>
<rect x="151.96" y="179" width="2.2" height="7.7" fill="#eb3c37"/>
<rect x="154.74" y="148.5" width="2.2" height="38.2" fill="#48f870"/>
<rect x="157.52" y="146.2" width="2.2" height="30.3" fill="#eb3c37"/>
<rect x="160.3" y="176.5" width="2.2" height="6.5" fill="#eb3c37"/>
<rect x="163.08" y="172.2" width="2.2" height="10.8" fill="#48f870"/>
<rect x="165.86" y="154.6" width="2.2" height="17.9" fill="#48f870"/>
<rect x="168.64" y="154.7" width="2.2" height="7.3" fill="#eb3c37"/>
<rect x="171.42" y="160" width="2.2" height="15" fill="#eb3c37"/>
<rect x="174.2" y="148.5" width="2.2" height="26.7" fill="#48f870"/>
<rect x="176.98" y="137.9" width="2.2" height="12.6" fill="#48f870"/>
<rect x="179.76" y="135" width="2.2" height="3.7" fill="#48f870"/>
<rect x="182.54" y="116" width="2.2" height="19.7" fill="#48f870"/>
<rect x="185.32" y="116" width="2.2" height="6" fill="#eb3c37"/>
<rect x="188.1" y="120.6" width="2.2" height="32.4" fill="#eb3c37"/>
<rect x="190.88" y="151.8" width="2.2" height="10.5" fill="#eb3c37"/>
<rect x="193.66" y="160.9" width="2.2" height="18.3" fill="#eb3c37"/>
<rect x="196.44" y="179.8" width="2.2" height="15.1" fill="#eb3c37"/>
<rect x="199.22" y="194.4" width="2.2" height="5.1" fill="#eb3c37"/>
<rect x="202" y="186.8" width="2.2" height="13.5" fill="#48f870"/>
<rect x="204.78" y="176.8" width="2.2" height="11.7" fill="#48f870"/>
<rect x="207.56" y="176.8" width="2.2" height="27.2" fill="#eb3c37"/>
<rect x="210.34" y="201.1" width="2.2" height="2.9" fill="#48f870"/>
<rect x="213.12" y="196.9" width="2.2" height="4.7" fill="#48f870"/>
<rect x="215.9" y="189.9" width="2.2" height="8.7" fill="#48f870"/>
<rect x="218.68" y="188.9" width="2.2" height="5.5" fill="#eb3c37"/>
<rect x="221.46" y="192.2" width="2.2" height="7.3" fill="#eb3c37"/>
<rect x="224.24" y="190.5" width="2.2" height="8.5" fill="#48f870"/>
<rect x="227.02" y="186" width="2.2" height="5" fill="#48f870"/>
<rect x="229.8" y="185.5" width="2.2" height="6.7" fill="#eb3c37"/>
<rect x="232.58" y="191.6" width="2.2" height="3.3" fill="#eb3c37"/>
<rect x="235.36" y="193.9" width="2.2" height="4.4" fill="#eb3c37"/>
<rect x="238.14" y="196.6" width="2.2" height="4.5" fill="#eb3c37"/>
<rect x="240.92" y="200" width="2.2" height="5.7" fill="#eb3c37"/>
<rect x="243.7" y="204" width="2.2" height="1.7" fill="#48f870"/>
<rect x="246.48" y="187.2" width="2.2" height="17.8" fill="#48f870"/>
<rect x="249.26" y="159.7" width="2.2" height="28" fill="#48f870"/>
<rect x="252.04" y="158.6" width="2.2" height="20.6" fill="#eb3c37"/>
<rect x="254.82" y="178.8" width="2.2" height="1.3" fill="#eb3c37"/>
<rect x="257.6" y="179" width="2.2" height="3.5" fill="#eb3c37"/>
<rect x="260.38" y="154.7" width="2.2" height="26.6" fill="#48f870"/>
<rect x="263.16" y="154.7" width="2.2" height="2.9" fill="#eb3c37"/>
<rect x="265.94" y="156.9" width="2.2" height="21.9" fill="#eb3c37"/>
<rect x="268.72" y="177.2" width="2.2" height="3.8" fill="#eb3c37"/>
<rect x="271.5" y="170.8" width="2.2" height="10.2" fill="#48f870"/>
<rect x="274.28" y="161.4" width="2.2" height="10.2" fill="#48f870"/>
<rect x="277.06" y="160.3" width="2.2" height="16.4" fill="#eb3c37"/>
<rect x="279.84" y="175.5" width="2.2" height="1.7" fill="#48f870"/>
<rect x="282.62" y="175" width="2.2" height="2" fill="#eb3c37"/>
<rect x="285.4" y="175.8" width="2.2" height="10.2" fill="#eb3c37"/>
<rect x="288.18" y="185.1" width="2.2" height="4.8" fill="#eb3c37"/>
<rect x="290.96" y="187.2" width="2.2" height="2.7" fill="#48f870"/>
<rect x="293.74" y="180.9" width="2.2" height="6.8" fill="#48f870"/>
<rect x="296.52" y="180.9" width="2.2" height="5.1" fill="#eb3c37"/>
<rect x="299.3" y="184.8" width="2.2" height="11.8" fill="#eb3c37"/>
<rect x="302.08" y="194" width="2.2" height="2.6" fill="#48f870"/>
<rect x="304.86" y="194.4" width="2.2" height="11.8" fill="#eb3c37"/>
<rect x="307.64" y="198.2" width="2.2" height="8" fill="#48f870"/>
<rect x="310.42" y="196" width="2.2" height="3.4" fill="#48f870"/>
<rect x="313.2" y="195.5" width="2.2" height="9.4" fill="#eb3c37"/>
<rect x="315.98" y="198.9" width="2.2" height="6" fill="#48f870"/>
<rect x="318.76" y="198.5" width="2.2" height="5.9" fill="#eb3c37"/>
<rect x="321.54" y="203.2" width="2.2" height="2.9" fill="#eb3c37"/>
<rect x="324.32" y="203.6" width="2.2" height="2.5" fill="#48f870"/>
<rect x="327.1" y="203.9" width="2.2" height="6.7" fill="#eb3c37"/>
<rect x="329.88" y="209.5" width="2.2" height="5.5" fill="#eb3c37"/>
<rect x="332.66" y="214" width="2.2" height="3.9" fill="#eb3c37"/>
<rect x="335.44" y="214.5" width="2.2" height="3.4" fill="#48f870"/>
<rect x="338.22" y="214" width="2.2" height="8.1" fill="#eb3c37"/>
<rect x="341" y="217.9" width="2.2" height="4.5" fill="#48f870"/>
<rect x="343.78" y="205.3" width="2.2" height="13.4" fill="#48f870"/>
<rect x="346.56" y="205.3" width="2.2" height="9.7" fill="#eb3c37"/>
<rect x="349.34" y="210" width="2.2" height="5" fill="#48f870"/>
<rect x="352.12" y="210.3" width="2.2" height="2" fill="#eb3c37"/>
<rect x="354.9" y="210.6" width="2.2" height="1.7" fill="#eb3c37"/>
<rect x="357.68" y="210" width="2.2" height="3.3" fill="#48f870"/>
<rect x="360.46" y="208.6" width="2.2" height="3" fill="#48f870"/>
<rect x="363.24" y="207.8" width="2.2" height="2.8" fill="#eb3c37"/>
<rect x="366.02" y="210.6" width="2.2" height="6.4" fill="#eb3c37"/>
<rect x="368.8" y="213.7" width="2.2" height="3.3" fill="#48f870"/>
<rect x="371.58" y="200.5" width="2.2" height="14" fill="#48f870"/>
<rect x="374.36" y="199.9" width="2.2" height="1.7" fill="#48f870"/>
<rect x="377.14" y="195.5" width="2.2" height="5.5" fill="#48f870"/>
<rect x="379.92" y="195.2" width="2.2" height="3" fill="#eb3c37"/>
<rect x="382.7" y="196.8" width="2.2" height="7.6" fill="#eb3c37"/>
<rect x="385.48" y="191.8" width="2.2" height="12.1" fill="#48f870"/>
<rect x="388.26" y="191.5" width="2.2" height="2" fill="#48f870"/>
<rect x="391.04" y="185.9" width="2.2" height="6.7" fill="#48f870"/>
<rect x="393.82" y="183.7" width="2.2" height="3.9" fill="#48f870"/>
<rect x="396.6" y="183.7" width="2.2" height="2.7" fill="#eb3c37"/>
<rect x="399.38" y="185.4" width="2.2" height="22.9" fill="#eb3c37"/>
<rect x="402.16" y="203.9" width="2.2" height="4.4" fill="#48f870"/>
<rect x="404.94" y="203.6" width="2.2" height="7" fill="#eb3c37"/>
<rect x="407.72" y="209" width="2.2" height="2.1" fill="#eb3c37"/>
<rect x="410.5" y="208.6" width="2.2" height="2" fill="#48f870"/>
<rect x="413.28" y="208.6" width="2.2" height="5.9" fill="#eb3c37"/>
<rect x="416.06" y="212.8" width="2.2" height="4.2" fill="#eb3c37"/>
<rect x="418.84" y="213.3" width="2.2" height="4.1" fill="#48f870"/>
<rect x="421.62" y="213.7" width="2.2" height="2" fill="#48f870"/>
<rect x="424.4" y="212.3" width="2.2" height="2.2" fill="#48f870"/>
<rect x="427.18" y="213.3" width="2.2" height="2" fill="#48f870"/>
<rect x="429.96" y="213.3" width="2.2" height="8.8" fill="#eb3c37"/>
<rect x="432.74" y="219" width="2.2" height="2.7" fill="#48f870"/>
<rect x="435.52" y="219.5" width="2.2" height="24.4" fill="#eb3c37"/>
<rect x="438.3" y="243.1" width="2.2" height="25.2" fill="#eb3c37"/>
<rect x="441.08" y="254.8" width="2.2" height="12.6" fill="#48f870"/>
<rect x="443.86" y="249.8" width="2.2" height="5.5" fill="#48f870"/>
<rect x="446.64" y="250.3" width="2.2" height="8.7" fill="#eb3c37"/>
<rect x="449.42" y="256.5" width="2.2" height="4.5" fill="#48f870"/>
<rect x="452.2" y="256.5" width="2.2" height="5.1" fill="#eb3c37"/>
<rect x="454.98" y="260.4" width="2.2" height="2.8" fill="#eb3c37"/>
<rect x="457.76" y="258.2" width="2.2" height="4.2" fill="#48f870"/>
<rect x="460.54" y="246.8" width="2.2" height="11.8" fill="#48f870"/>
<rect x="463.32" y="247.7" width="2.2" height="6.3" fill="#eb3c37"/>
<rect x="466.1" y="253.2" width="2.2" height="10.2" fill="#eb3c37"/>
<rect x="468.88" y="253.8" width="2.2" height="9.6" fill="#48f870"/>
<rect x="471.66" y="254.6" width="2.2" height="1.6" fill="#48f870"/>
<rect x="474.44" y="249" width="2.2" height="5.6" fill="#48f870"/>
<rect x="477.22" y="248.5" width="2.2" height="2.2" fill="#eb3c37"/>
<rect x="480" y="249" width="2.2" height="7.9" fill="#eb3c37"/>
<rect x="482.78" y="241.1" width="2.2" height="15.1" fill="#48f870"/>
<rect x="485.56" y="231.7" width="2.2" height="10.6" fill="#48f870"/>
<rect x="488.34" y="230" width="2.2" height="12.3" fill="#eb3c37"/>
<rect x="491.12" y="240.6" width="2.2" height="2.2" fill="#48f870"/>
<rect x="493.9" y="239.8" width="2.2" height="2" fill="#eb3c37"/>
<rect x="496.68" y="241.1" width="2.2" height="8.4" fill="#eb3c37"/>
<rect x="499.46" y="248.5" width="2.2" height="7.7" fill="#eb3c37"/>
<rect x="502.24" y="250.7" width="2.2" height="4.2" fill="#48f870"/>
<rect x="505.02" y="250.7" width="2.2" height="12.3" fill="#eb3c37"/>
<rect x="507.8" y="252.9" width="2.2" height="10.1" fill="#48f870"/>
<rect x="510.58" y="253.5" width="2.2" height="15.7" fill="#eb3c37"/>
<rect x="513.36" y="267" width="2.2" height="4.4" fill="#eb3c37"/>
<rect x="516.14" y="270" width="2.2" height="9.3" fill="#eb3c37"/>
<rect x="518.92" y="263.6" width="2.2" height="15.2" fill="#48f870"/>
<rect x="521.7" y="254.9" width="2.2" height="10.4" fill="#48f870"/>
<rect x="524.48" y="247.3" width="2.2" height="8.9" fill="#48f870"/>
<rect x="527.26" y="247.3" width="2.2" height="9.3" fill="#eb3c37"/>
<rect x="530.04" y="255.7" width="2.2" height="5.1" fill="#eb3c37"/>
<rect x="532.82" y="251.9" width="2.2" height="8.9" fill="#48f870"/>
<rect x="535.6" y="253.5" width="2.2" height="1.4" fill="#48f870"/>
<rect x="538.38" y="251.5" width="2.2" height="1.7" fill="#48f870"/>
<rect x="541.16" y="251.9" width="2.2" height="14.8" fill="#eb3c37"/>
<rect x="543.94" y="263.6" width="2.2" height="2.2" fill="#48f870"/>
<rect x="546.72" y="265.8" width="2.2" height="3.4" fill="#eb3c37"/>
<rect x="549.5" y="267" width="2.2" height="4.4" fill="#eb3c37"/>
<rect x="552.28" y="270" width="2.2" height="8.1" fill="#eb3c37"/>
<rect x="555.06" y="276.4" width="2.2" height="7.4" fill="#eb3c37"/>
<rect x="557.84" y="280.9" width="2.2" height="8.4" fill="#eb3c37"/>
<rect x="560.62" y="289.3" width="2.2" height="4.2" fill="#eb3c37"/>
<rect x="563.4" y="291.5" width="2.2" height="1.7" fill="#48f870"/>
<rect x="566.18" y="292.2" width="2.2" height="6.1" fill="#eb3c37"/>
<rect x="568.96" y="297.2" width="2.2" height="8.4" fill="#eb3c37"/>
<rect x="571.74" y="304.5" width="2.2" height="3.8" fill="#eb3c37"/>
<rect x="574.52" y="303.3" width="2.2" height="5.4" fill="#48f870"/>
<rect x="577.3" y="291" width="2.2" height="11.8" fill="#48f870"/>
<rect x="580.08" y="294.4" width="2.2" height="4.2" fill="#eb3c37"/>
<rect x="582.86" y="295.6" width="2.2" height="3.8" fill="#48f870"/>
<rect x="585.64" y="294.4" width="2.2" height="2.2" fill="#48f870"/>
<rect x="588.42" y="287.7" width="2.2" height="7.2" fill="#48f870"/>
<rect x="591.2" y="286.5" width="2.2" height="3.3" fill="#eb3c37"/>
<rect x="593.98" y="288.2" width="2.2" height="2.3" fill="#eb3c37"/>
<rect x="596.76" y="289.3" width="2.2" height="4.6" fill="#eb3c37"/>
<rect x="599.54" y="292.7" width="2.2" height="6.7" fill="#eb3c37"/>
<rect x="602.32" y="297.2" width="2.2" height="7.8" fill="#eb3c37"/>
<rect x="605.1" y="304.5" width="2.2" height="7.5" fill="#eb3c37"/>
<rect x="607.88" y="306.2" width="2.2" height="6.2" fill="#48f870"/>
<rect x="610.66" y="305.6" width="2.2" height="1.4" fill="#eb3c37"/>
<rect x="613.44" y="305.6" width="2.2" height="1.4" fill="#48f870"/>
<rect x="616.22" y="306.8" width="2.2" height="2.2" fill="#eb3c37"/>
<rect x="619" y="307.7" width="2.2" height="7" fill="#eb3c37"/>
<rect x="621.78" y="314" width="2.2" height="8" fill="#eb3c37"/>
<rect x="624.56" y="317" width="2.2" height="5" fill="#48f870"/>
<rect x="627.34" y="315.3" width="2.2" height="3.4" fill="#eb3c37"/>
<rect x="630.12" y="315.6" width="2.2" height="2" fill="#48f870"/>
<rect x="632.9" y="290.4" width="2.2" height="26.9" fill="#48f870"/>
<rect x="635.68" y="291.8" width="2.2" height="5.3" fill="#eb3c37"/>
<rect x="638.46" y="264.9" width="2.2" height="32.2" fill="#48f870"/>
<rect x="641.24" y="197.4" width="2.2" height="67.8" fill="#48f870"/>
<rect x="644.02" y="197.4" width="2.2" height="28.5" fill="#eb3c37"/>
<rect x="646.8" y="168.8" width="2.2" height="57.1" fill="#48f870"/>
<rect x="649.58" y="151" width="2.2" height="18.1" fill="#48f870"/>
<rect x="652.36" y="151" width="2.2" height="11.8" fill="#eb3c37"/>
<rect x="655.14" y="162.4" width="2.2" height="41.6" fill="#eb3c37"/>
<rect x="657.92" y="191.4" width="2.2" height="12.6" fill="#48f870"/>
<rect x="660.7" y="191.8" width="2.2" height="32.4" fill="#eb3c37"/>
<rect x="663.48" y="224.2" width="2.2" height="5.9" fill="#eb3c37"/>
<rect x="666.26" y="228.1" width="2.2" height="2.8" fill="#eb3c37"/>
<rect x="669.04" y="212" width="2.2" height="18.9" fill="#48f870"/>
<rect x="671.82" y="209.6" width="2.2" height="34.8" fill="#eb3c37"/>
<rect x="674.6" y="199" width="2.2" height="45" fill="#48f870"/>
<rect x="677.38" y="199" width="2.2" height="14" fill="#eb3c37"/>
<rect x="680.16" y="196.8" width="2.2" height="16.8" fill="#48f870"/>
<rect x="682.94" y="196.8" width="2.2" height="20.7" fill="#eb3c37"/>
<rect x="685.72" y="217" width="2.2" height="2.2" fill="#eb3c37"/>
<rect x="688.5" y="212" width="2.2" height="6" fill="#48f870"/>
<rect x="691.28" y="212" width="2.2" height="12.2" fill="#eb3c37"/>
<rect x="694.06" y="212.5" width="2.2" height="11.7" fill="#48f870"/>
<rect x="696.84" y="210.8" width="2.2" height="2.2" fill="#48f870"/>
<rect x="699.62" y="210.8" width="2.2" height="15.1" fill="#eb3c37"/>
<rect x="702.4" y="221.4" width="2.2" height="3.7" fill="#48f870"/>
<rect x="705.18" y="218" width="2.2" height="3.7" fill="#48f870"/>
<rect x="707.96" y="218.3" width="2.2" height="11.5" fill="#eb3c37"/>
<rect x="710.74" y="229.3" width="2.2" height="16.4" fill="#eb3c37"/>
<rect x="713.52" y="241.8" width="2.2" height="3.9" fill="#48f870"/>
<rect x="716.3" y="241" width="2.2" height="10" fill="#eb3c37"/>
<rect x="719.08" y="245.1" width="2.2" height="5.6" fill="#48f870"/>
<rect x="721.86" y="244.5" width="2.2" height="2" fill="#eb3c37"/>
<rect x="724.64" y="245.5" width="2.2" height="14.9" fill="#eb3c37"/>
<rect x="727.42" y="259.8" width="2.2" height="1.7" fill="#eb3c37"/>
<rect x="6.5" y="103" width="0.4" height="16.7" fill="#eb3c37"/>
</g>
<line x1="6.5" y1="433.5" x2="1017.4" y2="433.5" stroke="#d9d8e6" stroke-width="1.1"/>
<g clip-path="url(#rsi)" fill="none" stroke-linejoin="round">
<polyline stroke="#7350bd" stroke-width="1.0" stroke-opacity="0.9" points="6.45,543.22 9.1,527.92 13.8,511.59 17.27,519.76 19.92,533.63 21.96,502.41 24.41,503.84 27.47,504.45 30.53,513.63 33.18,503.43 36.24,508.53 38.69,515.67 41.14,510.57 42.78,519.76 44.41,533.02 46.86,526.9 49.92,544.24 52.57,539.14 56.04,539.76 57.47,535.06 60.73,523.43 64.2,532 66.86,534.45 69.31,533.02 71.76,530.98 74.41,535.06 77.47,542.2 81.14,547.31 83.59,548.33 86.24,548.33 88.69,538.12 91.35,543.84 94.41,533.02 96.86,532 99.51,530.57 101.96,534.04 105.02,542.2 108.08,530.98 110.73,542.2 113.8,536.08 116.65,545.27 119.31,536.08 122.37,523.84 124.82,530.98 127.47,519.76 130.12,503.43 133.18,482 135.63,486.69 138.69,502.41 141.76,503.84 144.41,497.31 147.47,462.2 149.92,479.96 152.98,484.04 155.43,465.67 158.69,483.02 161.14,486.69 164.2,479.96 166.86,472.82 169.31,476.9 172.37,485.06 175.02,472.82 177.47,467.71 180.12,465.67 183.18,456.49 186.04,461.59 188.69,483.02 191.35,489.14 192.04,489.14 194.49,499.35 197.14,506.49 199.8,509.14 202.65,501.39 205.71,495.27 207.96,508.53 210.41,507.92 213.47,504.45 216.53,499.35 219.59,502.41 222.65,504.86 225.1,498.33 227.76,495.27 230.82,498.94 233.88,502.41 237.35,505.06 241.02,509.14 244.08,509.14 246.12,499.35 248.16,480.98 250.2,468.33 252.86,485.47 255.31,486.08 258.37,489.14 261.43,468.33 263.88,470.37 266.53,490.16 269.59,491.18 272.65,483.02 275.31,477.31 277.76,489.55 280.82,490.16 283.47,490.16 285.92,498.33 288.98,501.8 292.04,500.37 295.1,493.22 297.76,499.35 300.2,507.1 302.65,507.1 305.31,515.67 308.37,508.53 311.43,505.47 314.08,512.61 316.53,505.47 319.59,509.96 322.65,511.59 325.71,509.14 328.78,517.71 331.84,521.8 333.88,523.43 335.92,520.16 339.39,526.9 342.04,518.73 344.49,500.37 347.14,509.55 349.59,505.06 352.24,507.1 355.31,505.88 358.37,503.43 361.43,501.39 363.88,503.02 366.53,512.61 369.18,509.55 372.04,485.06 374.69,484.04 377.76,474.86 380.49,476.9 383.76,491.59 386.2,472.82 388.65,470.78 391.92,462.61 394.37,460.16 397.43,463.63 399.47,503.84 402.53,499.35 405.59,506.49 408.65,507.1 411.1,505.06 413.76,511.59 416.82,515.27 419.88,512.61 423.35,509.96 428.04,509.14 430.69,523.84 433.14,518.73 435.59,540.16 437.22,549.35 440.9,549.35 442.33,538.12 444.37,532 447.43,538.12 449.88,536.49 452.53,539.14 455.59,540.16 458.04,534.04 461.31,513.22 464.16,521.8 466.82,528.94 469.88,514.65 471.92,515.27 474.98,506.49 478.04,508.53 481.1,514.65 483.76,491.18 486.41,479.96 489.27,492.82 492.33,492.2 494.78,492.2 497.43,503.84 500.49,510.57 502.94,505.47 505.59,517.71 508.65,503.84 511.1,519.76 513.76,521.8 516.82,528.94 519.88,505.47 522.94,493.22 525.59,487.51 528.65,497.31 531.1,501.39 533.55,491.59 539.27,491.59 541.71,507.92 544.98,508.53 548.45,511.59 550.49,513.63 553.55,522.82 556.61,528.94 559.67,534.04 561.71,536.08 563.76,535.06 564.45,535.06 567.1,540.16 570.16,546.29 572.61,548.33 575.27,534.04 577.92,514.65 580.78,521.8 583.43,518.73 586.08,515.27 589.14,503.43 592.2,505.47 595.67,509.14 598.33,513.63 600.78,521.8 602.82,527.51 605.47,534.45 608.94,524.24 613.02,523.84 616.08,525.47 619.14,534.04 622.61,542.61 625.27,532 628.33,532 630.98,527.92 632.41,501.39 634.04,478.53 636.49,487.51 638.53,458.53 640.57,433.02 642.61,433.02 644.65,450.37 646.69,433.02 652.82,433.02 654.24,448.33 655.88,466.69 658.33,462.61 660.98,479.96 663.63,484.04 667.1,484.65 669.76,475.88 672.61,492.82 675.27,473.84 677.92,479.96 680.78,474.45 683.43,484.65 686.49,484.65 689.55,482.61 692.61,488.73 695.06,483.02 697.71,483.43 700.78,490.78 703.84,488.73 706.49,486.69 708.94,494.24 712,503.43 714.04,501.39 716.69,505.88 719.55,502.41 722.2,502.41 725.27,511.59 727.71,512.61 728.94,512.61"/>
<polyline stroke="#b59b56" stroke-width="1.15" stroke-opacity="0.95" points="6.45,547.31 9.1,547.92 12.16,545.27 15.22,542.2 19.31,539.14 23.39,533.63 28.49,527.51 33.59,522.2 37.67,518.73 41.76,516.29 46.45,515.27 49.92,516.69 54,519.76 58.08,520.37 62.16,522.82 67.27,526.29 72.37,528.94 77.47,533.02 81.55,536.08 85.63,538.12 90.73,538.12 94.82,537.31 99.92,538.12 106.04,538.53 112.16,539.55 117.27,539.55 121.35,537.71 126.45,535.06 131.55,529.96 135.63,524.86 139.71,521.8 143.8,517.71 147.88,511.59 151.96,505.47 156.04,497.71 160.12,492.82 164.2,487.51 168.29,484.04 172.37,483.43 175.43,482 179.51,477.92 183.18,474.45 187.67,474.24 192.04,474.86 195.1,477.92 200.2,480.98 205.31,483.43 210.41,487.51 216.53,492.2 220.61,496.9 225.1,500.98 230.82,502.41 236.94,502.41 241.02,502.82 244.69,503.84 248.16,500.98 252.24,498.33 257.35,496.9 261.43,493.63 264.49,491.59 269.59,490.78 273.67,488.12 278.78,485.47 283.88,483.43 286.94,484.65 290,486.69 294.08,487.71 297.14,488.53 301.22,492.2 305.31,495.67 309.39,497.71 314.49,501.39 319.59,503.84 324.69,505.88 329.8,508.53 334.9,512 341.02,514.65 346.12,513.63 352.24,513.63 357.35,513.22 363.47,512 368.57,511.18 372.65,507.51 376.73,503.02 378.04,500.98 380.49,498.33 383.76,497.31 388.24,492.82 392.33,489.14 396.41,484.65 398.04,483.43 402.53,483.43 407.02,482.61 410.69,484.04 414.78,487.1 418.86,491.18 422.94,493.22 428.04,498.33 432.12,504.45 435.18,510.57 438.24,516.08 441.31,519.35 445.39,522.82 449.47,526.29 453.55,528.94 457.63,531.39 461.71,532 465.8,533.43 470.9,533.02 473.96,530.98 478.04,526.29 482.12,523.43 486.2,518.73 490.29,513.22 494.37,507.92 497.43,505.06 500.49,504.65 504.57,503.43 508.65,502.41 512.73,503.43 516.82,505.47 520.9,505.06 524.98,505.47 529.06,506.29 533.14,506.69 536.2,505.88 539.27,504.45 543.35,504.45 549.47,504.04 555.59,503.63 558.65,505.47 561.71,509.14 566.08,513.63 570.16,518.73 574.24,524.86 578.33,527.51 582.41,528.73 586.49,529.35 591.59,527.51 596.69,524.86 600.78,523.22 605.88,522.2 609.96,519.76 614.04,518.12 618.12,519.14 622.2,521.18 626.29,523.84 630.37,526.29 633.43,524.86 637.1,521.8 639.55,516.69 642.61,509.55 646.69,500.37 650.78,490.16 654.86,482 658.94,473.84 663.02,468.33 667.1,463.63 670.16,459.55 672.2,460.57 675.27,459.55 678.33,462.2 681.39,465.67 684.45,469.14 688.53,474.86 692.61,479.96 696.69,482 700.78,483.02 705.88,483.43 708.94,484.65 712,485.47 716.08,488.73 720.16,491.59 724.24,493.84 728.33,496.9"/>
</g>
<text x="11.5" y="31" font-size="7.9" fill="#d4d2e6" textLength="102.7" lengthAdjust="spacingAndGlyphs">EPX / TetherUS, 1h, BINANCE</text>
<text x="118.6" y="31" font-size="7.9" fill="#d4d2e6" textLength="5.6" lengthAdjust="spacingAndGlyphs">O</text>
<text x="124.5" y="31" font-size="7.9" fill="#f2463f" textLength="33" lengthAdjust="spacingAndGlyphs">0.000921</text>
<text x="162.3" y="31" font-size="7.9" fill="#d4d2e6" textLength="5.2" lengthAdjust="spacingAndGlyphs">H</text>
<text x="168" y="31" font-size="7.9" fill="#f2463f" textLength="32.7" lengthAdjust="spacingAndGlyphs">0.000931</text>
<text x="205.6" y="31" font-size="7.9" fill="#d4d2e6" textLength="4" lengthAdjust="spacingAndGlyphs">L</text>
<text x="210" y="31" font-size="7.9" fill="#f2463f" textLength="34.2" lengthAdjust="spacingAndGlyphs">0.000895</text>
<text x="248.5" y="31" font-size="7.9" fill="#d4d2e6" textLength="5.4" lengthAdjust="spacingAndGlyphs">C</text>
<text x="254.5" y="31" font-size="7.9" fill="#f2463f" textLength="34" lengthAdjust="spacingAndGlyphs">0.000920</text>
<text x="293.7" y="31" font-size="7.9" fill="#f2463f" textLength="73.8" lengthAdjust="spacingAndGlyphs">−0.000002 (−0.22%)</text>
<text x="975.2" y="28.2" font-size="8.2" fill="#b1afcc" textLength="20.5" lengthAdjust="spacingAndGlyphs">USDT</text>
<text x="975.2" y="56.32" font-size="9.5" fill="#b1afcc" textLength="34.7" lengthAdjust="spacingAndGlyphs">0.001400</text>
<text x="975.2" y="93.15" font-size="9.5" fill="#b1afcc" textLength="34.7" lengthAdjust="spacingAndGlyphs">0.001300</text>
<text x="975.2" y="112.65" font-size="9.5" fill="#b1afcc" textLength="34.7" lengthAdjust="spacingAndGlyphs">0.001250</text>
<text x="975.2" y="132.93" font-size="9.5" fill="#b1afcc" textLength="34.7" lengthAdjust="spacingAndGlyphs">0.001200</text>
<text x="975.2" y="154.09" font-size="9.5" fill="#b1afcc" textLength="34.7" lengthAdjust="spacingAndGlyphs">0.001150</text>
<text x="975.2" y="176.18" font-size="9.5" fill="#b1afcc" textLength="34.7" lengthAdjust="spacingAndGlyphs">0.001100</text>
<text x="975.2" y="199.3" font-size="9.5" fill="#b1afcc" textLength="34.7" lengthAdjust="spacingAndGlyphs">0.001050</text>
<text x="975.2" y="218.6" font-size="9.5" fill="#b1afcc" textLength="34.7" lengthAdjust="spacingAndGlyphs">0.001010</text>
<text x="975.2" y="238.69" font-size="9.5" fill="#b1afcc" textLength="34.7" lengthAdjust="spacingAndGlyphs">0.000970</text>
<text x="975.2" y="259.62" font-size="9.5" fill="#b1afcc" textLength="34.7" lengthAdjust="spacingAndGlyphs">0.000930</text>
<text x="975.2" y="281.47" font-size="9.5" fill="#b1afcc" textLength="34.7" lengthAdjust="spacingAndGlyphs">0.000890</text>
<text x="975.2" y="304.32" font-size="9.5" fill="#b1afcc" textLength="34.7" lengthAdjust="spacingAndGlyphs">0.000850</text>
<text x="975.2" y="353.45" font-size="9.5" fill="#b1afcc" textLength="34.7" lengthAdjust="spacingAndGlyphs">0.000770</text>
<text x="975.2" y="373.2" font-size="9.5" fill="#b1afcc" textLength="34.7" lengthAdjust="spacingAndGlyphs">0.000740</text>
<text x="975.2" y="393.77" font-size="9.5" fill="#b1afcc" textLength="34.7" lengthAdjust="spacingAndGlyphs">0.000710</text>
<text x="975.2" y="415.22" font-size="9.5" fill="#b1afcc" textLength="34.7" lengthAdjust="spacingAndGlyphs">0.000680</text>
<text x="975.2" y="434.6" font-size="9.5" fill="#b1afcc" textLength="34.7" lengthAdjust="spacingAndGlyphs">0.000654</text>
<text x="975.2" y="448.5" font-size="9.4" fill="#b1afcc" textLength="21" lengthAdjust="spacingAndGlyphs">70.00</text>
<text x="975.2" y="472" font-size="9.4" fill="#b1afcc" textLength="21" lengthAdjust="spacingAndGlyphs">60.00</text>
<text x="975.2" y="495.4" font-size="9.4" fill="#b1afcc" textLength="21" lengthAdjust="spacingAndGlyphs">50.00</text>
<text x="975.2" y="518.5" font-size="9.4" fill="#b1afcc" textLength="21" lengthAdjust="spacingAndGlyphs">40.00</text>
<text x="975.2" y="541.5" font-size="9.4" fill="#b1afcc" textLength="21" lengthAdjust="spacingAndGlyphs">30.00</text>
<rect x="944.4" y="66" width="70" height="10.2" rx="1" fill="#182f64"/>
<text x="964.1" y="74" font-size="7.9" fill="#d6d9ea" textLength="16.4" lengthAdjust="spacingAndGlyphs" text-anchor="end">High</text>
<text x="975.2" y="74.3" font-size="9.5" fill="#e2e5f1" textLength="34.7" lengthAdjust="spacingAndGlyphs">0.001350</text>
<rect x="948" y="207.1" width="66.4" height="10.3" rx="1" fill="#182f64"/>
<text x="964.1" y="215.15" font-size="7.9" fill="#d6d9ea" textLength="12.6" lengthAdjust="spacingAndGlyphs" text-anchor="end">Avg</text>
<text x="975.2" y="215.45" font-size="9.5" fill="#e2e5f1" textLength="34.7" lengthAdjust="spacingAndGlyphs">0.001016</text>
<rect x="947.4" y="331.2" width="67" height="9.8" rx="1" fill="#182f64"/>
<text x="964.1" y="339" font-size="7.9" fill="#d6d9ea" textLength="13.2" lengthAdjust="spacingAndGlyphs" text-anchor="end">Low</text>
<text x="975.2" y="339.3" font-size="9.5" fill="#e2e5f1" textLength="34.7" lengthAdjust="spacingAndGlyphs">0.000806</text>
<rect x="968.8" y="256.3" width="45.9" height="19.4" rx="1" fill="#ffffff"/>
<text x="975.2" y="264.9" font-size="8.9" fill="#4d4d58" textLength="34.7" lengthAdjust="spacingAndGlyphs">0.000920</text>
<text x="975.2" y="273.2" font-size="8.9" fill="#6b6b77" textLength="19.6" lengthAdjust="spacingAndGlyphs">18:11</text>
<rect x="968.8" y="289" width="45.9" height="10.5" rx="1" fill="#ffffff"/>
<text x="975.2" y="297.4" font-size="8.9" fill="#4d4d58" textLength="34.7" lengthAdjust="spacingAndGlyphs">0.000861</text>
<rect x="968.8" y="319.8" width="45.9" height="10.4" rx="1" fill="#ffffff"/>
<text x="975.2" y="328.1" font-size="8.9" fill="#4d4d58" textLength="34.7" lengthAdjust="spacingAndGlyphs">0.000810</text>
<text x="24.9" y="560.6" font-size="8.6" fill="#b4b2cd" stroke="#b4b2cd" stroke-width="0.28" textLength="13.4" lengthAdjust="spacingAndGlyphs" text-anchor="middle">Jun</text>
<text x="91.62" y="560.8" font-size="9.4" fill="#b1afcc" textLength="4.5" lengthAdjust="spacingAndGlyphs" text-anchor="middle">2</text>
<text x="158.33" y="560.8" font-size="9.4" fill="#b1afcc" textLength="4.5" lengthAdjust="spacingAndGlyphs" text-anchor="middle">3</text>
<text x="225.05" y="560.8" font-size="9.4" fill="#b1afcc" textLength="4.5" lengthAdjust="spacingAndGlyphs" text-anchor="middle">4</text>
<text x="291.76" y="560.8" font-size="9.4" fill="#b1afcc" textLength="4.5" lengthAdjust="spacingAndGlyphs" text-anchor="middle">5</text>
<text x="358.48" y="560.8" font-size="9.4" fill="#b1afcc" textLength="4.5" lengthAdjust="spacingAndGlyphs" text-anchor="middle">6</text>
<text x="425.19" y="560.8" font-size="9.4" fill="#b1afcc" textLength="4.5" lengthAdjust="spacingAndGlyphs" text-anchor="middle">7</text>
<text x="491.9" y="560.8" font-size="9.4" fill="#b1afcc" textLength="4.5" lengthAdjust="spacingAndGlyphs" text-anchor="middle">8</text>
<text x="558.62" y="560.8" font-size="9.4" fill="#b1afcc" textLength="4.5" lengthAdjust="spacingAndGlyphs" text-anchor="middle">9</text>
<text x="625.34" y="560.8" font-size="9.4" fill="#b1afcc" textLength="9" lengthAdjust="spacingAndGlyphs" text-anchor="middle">10</text>
<text x="692.05" y="560.8" font-size="9.4" fill="#b1afcc" textLength="9" lengthAdjust="spacingAndGlyphs" text-anchor="middle">11</text>
<text x="758.76" y="560.8" font-size="9.4" fill="#b1afcc" textLength="9" lengthAdjust="spacingAndGlyphs" text-anchor="middle">12</text>
<text x="825.48" y="560.8" font-size="9.4" fill="#b1afcc" textLength="9" lengthAdjust="spacingAndGlyphs" text-anchor="middle">13</text>
<text x="892.2" y="560.8" font-size="9.4" fill="#b1afcc" textLength="9" lengthAdjust="spacingAndGlyphs" text-anchor="middle">14</text>
<text x="958.91" y="560.8" font-size="9.4" fill="#b1afcc" textLength="9" lengthAdjust="spacingAndGlyphs" text-anchor="middle">15</text>
<g fill="#1b1726" transform="translate(6.1,573.4) scale(0.339,0.345)"><path d="M14 18H7V7H0V0h14v18z"/><circle cx="20" cy="4" r="4"/><path d="M28 18h-8l7.5-18h8L28 18z"/></g>
<text x="21.2" y="579.7" font-size="8.3" fill="#18141f" stroke="#18141f" stroke-width="0.22" textLength="46" lengthAdjust="spacingAndGlyphs">TradingView</text>
</g>
</svg>
</body></html>
